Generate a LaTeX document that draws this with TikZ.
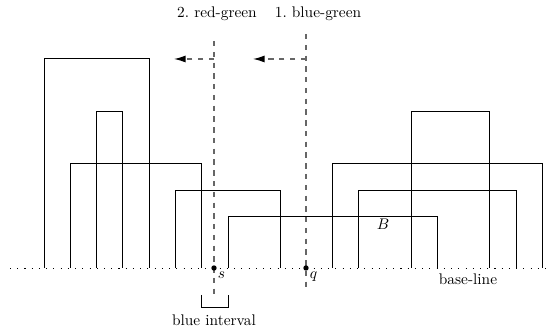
\documentclass[tikz,border=0pt]{standalone}
\usetikzlibrary{arrows.meta}

\tikzset{
    sweep/.style={dash pattern=on 3.5pt off 3.5pt,gray!80!black,line width=0.75pt},
    dot/.style={circle,fill,inner sep=0pt,minimum size=3.5pt},
}

\begin{document}
\begin{tikzpicture}[x=0.65pt,y=-0.65pt]
    \useasboundingbox (0,0) rectangle (550,331);
    % Base-line
    \draw[dash pattern=on 0.7pt off 4pt,semithick] (10,268) -- (546,268);
    \node at (468,279) {base-line};
    % Boxes
    \foreach \l/\r/\t in {44/149/58, 96/122/111, 70/201/163, 175/280/190,
                          228/437/216, 411/489/111, 332/542/163, 358/516/190} {
        \draw (\l,268) |- (\r,\t) -- (\r,268);
    }
    \node at (383,224) {$B$};
    % Sweep lines
    \coordinate (rgtop) at (214,41);
    \coordinate (rgbot) at (214,295);
    \coordinate (bgtop) at (306,34);
    \coordinate (bgbot) at (306,288);
    \draw[sweep] (rgtop) -- (rgbot);
    \draw[sweep] (bgtop) -- (bgbot);
    \node at (217,14) {2.~red-green};
    \node at (318,14) {1.~blue-green};
    % Directions
    \coordinate (rgturn) at (214,59);
    \coordinate (rgend) at (174,59);
    \coordinate (bgturn) at (306,59);
    \coordinate (bgend) at (253,59);
    \draw[sweep,-{Latex[length=7.5pt,width=4.5pt,black]}] (rgturn) -- (rgend);
    \draw[sweep,-{Latex[length=7.5pt,width=4.5pt,black]}] (bgturn) -- (bgend);
    % Points
    \node[dot] (s) at (214,268) {};
    \node[dot] (q) at (306,268) {};
    \node[anchor=north west,inner sep=1pt] at (s.south east) {$s$};
    \node[anchor=north west,inner sep=1pt] at (q.south east) {$q$};
    % Interval
    \draw (201,295) |- (228,307) -- (228,295);
    \node at (214,320) {blue interval};
\end{tikzpicture}
\end{document}
